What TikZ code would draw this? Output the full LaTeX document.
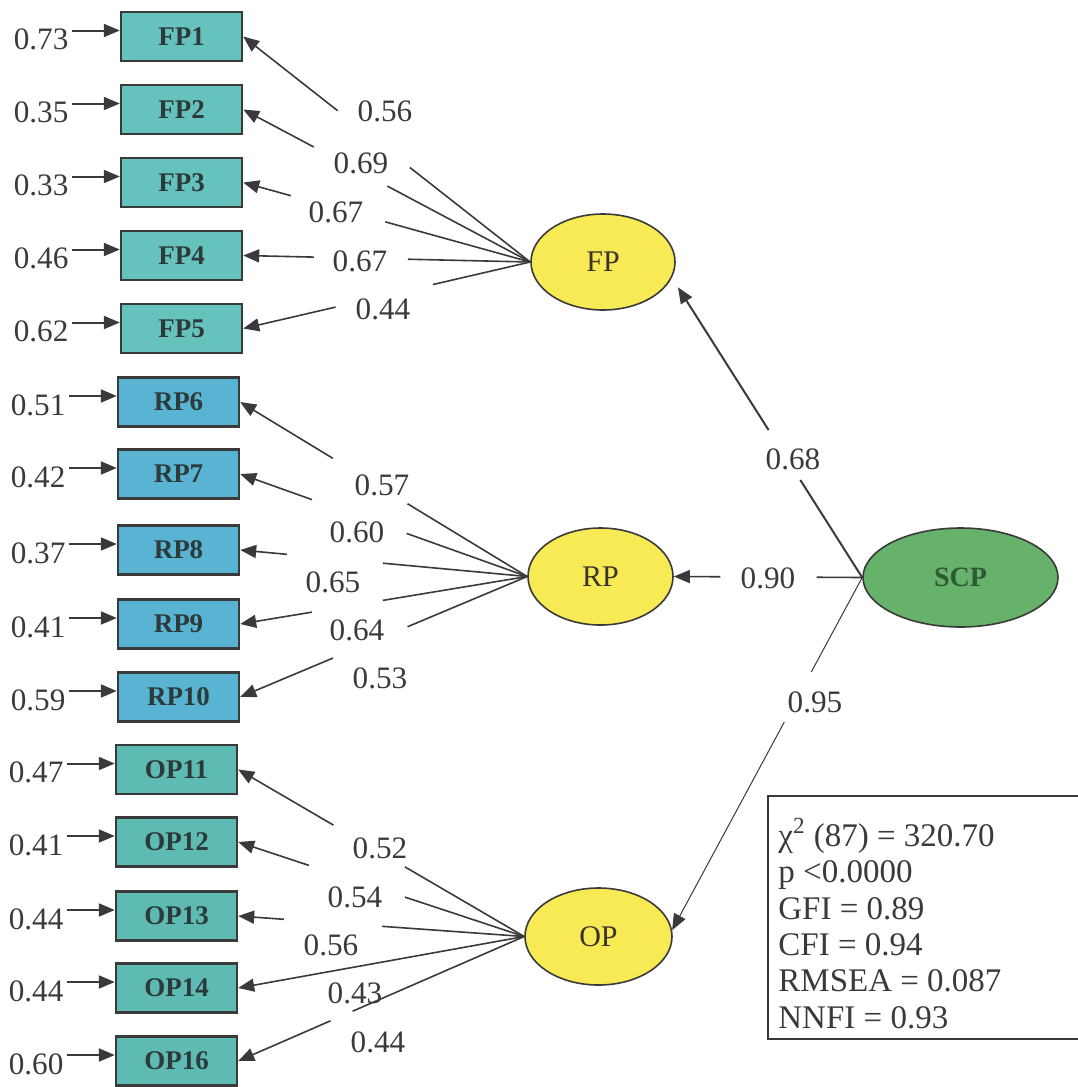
\documentclass[tikz,border=0pt]{standalone}
\usepackage{fontspec}
\setmainfont{Liberation Serif}
\usetikzlibrary{arrows.meta,shapes.geometric}

\definecolor{inkc}{HTML}{3A3A3A}
\definecolor{fpfill}{HTML}{66C2BC}
\definecolor{rpfill}{HTML}{58B4D2}
\definecolor{opfill}{HTML}{5DBBB3}
\definecolor{latfill}{HTML}{F8EA55}
\definecolor{scpfill}{HTML}{66B26A}
\definecolor{boxtext}{HTML}{2C3A3A}
\definecolor{scptext}{HTML}{2E5A33}
\definecolor{lattext}{HTML}{3A3428}

\begin{document}
\begin{tikzpicture}[x=0.5pt,y=-0.5pt,
  obs/.style={draw=inkc, line width=1.2pt, minimum width=60.5pt, minimum height=24.5pt,
    inner sep=0pt, font=\fontsize{13.5}{14}\selectfont\bfseries, text=boxtext},
  lat/.style={ellipse, draw=inkc, line width=0.8pt, fill=latfill, inner sep=0pt,
    font=\fontsize{15}{16}\selectfont, text=lattext},
  num/.style={font=\fontsize{15.6}{16}\selectfont, text=inkc, inner sep=0pt},
  tip/.style={-{Triangle[length=8pt,width=6.5pt]}},
  ln/.style={draw=inkc, line width=0.8pt},
]
\useasboundingbox (0,0) rectangle (1077,1087);

% latent variables
\node[lat, minimum width=72pt, minimum height=48pt] (FP) at (603,262) {FP};
\node[lat, minimum width=72.5pt, minimum height=48.5pt] (RP) at (600.5,576.5) {RP};
\node[lat, minimum width=73.5pt, minimum height=48.5pt] (OP) at (598.5,936.5) {OP};
\node[lat, fill=scpfill, text=scptext, font=\fontsize{14}{15}\selectfont\bfseries,
  minimum width=97.5pt, minimum height=49.5pt] (SCP) at (960.5,577.5) {SCP};

% observed indicators with their error terms
\foreach \n/\x/\y/\v/\c in {
  FP1/181.5/36.5/0.73/fpfill, FP2/181.5/109.5/0.35/fpfill, FP3/181.5/182.5/0.33/fpfill,
  FP4/181.5/255.5/0.46/fpfill, FP5/181.5/328.5/0.62/fpfill,
  RP6/178.5/402/0.51/rpfill, RP7/178.5/474/0.42/rpfill, RP8/178.5/550/0.37/rpfill,
  RP9/178.5/624/0.41/rpfill, RP10/178.5/697/0.59/rpfill,
  OP11/176.5/769.5/0.47/opfill, OP12/176.5/842/0.41/opfill, OP13/176.5/916/0.44/opfill,
  OP14/176.5/988/0.44/opfill, OP16/176.5/1061/0.60/opfill}{
  \node[obs, fill=\c] (\n) at (\x,\y) {\n};
  \node[num, anchor=east] (e\n) at ([xshift=-25.5pt, yshift=-1.5pt]\n.west) {\v};
  \coordinate (s\n) at ([xshift=1.5pt, yshift=4.5pt]e\n.east);
  \draw[ln, line width=1pt, tip] (s\n) -- (s\n -| \n.west);
}

% factor loadings, each line broken around its label
\foreach \f/\n/\a/\b in {
  FP/FP1/0.419/0.671, FP/FP2/0.498/0.754, FP/FP3/0.505/0.834, FP/FP4/0.426/0.754, FP/FP5/0.339/0.678,
  RP/RP6/0.417/0.677, RP/RP7/0.42/0.75, RP/RP8/0.503/0.837, RP/RP9/0.503/0.75, RP/RP10/0.417/0.677,
  OP/OP11/0.417/0.667, OP/OP12/0.417/0.753, OP/OP13/0.497/0.84, OP/OP14/0.5/0.5, OP/OP16/0.60/0.677}{
  \path (\f.west) -- (\n.east) coordinate[pos=\a] (\n-a) coordinate[pos=\b] (\n-b);
  \draw[ln] (\f.west) -- (\n-a);
  \draw[ln, tip] (\n-b) -- (\n.east);
}

\foreach \x/\y/\v [count=\i] in {
  385/111/0.56, 361/163/0.69, 336/212/0.67, 360/261/0.67, 383/309/0.44,
  382/485/0.57, 357/532/0.60, 333/582/0.65, 357/630/0.64, 380/678/0.53,
  380/848/0.52, 355/897/0.54, 331/945/0.56, 355/993/0.43, 378/1042/0.44}{
  \node[num] (load\i) at (\x,\y) {\v};
}

% second-order paths
\coordinate (FPin) at ([xshift=5.5pt, yshift=-1pt]FP.-20);
\path (SCP.west) -- (FPin) coordinate[pos=0.336] (sf-a) coordinate[pos=0.508] (sf-b);
\draw[ln, line width=1pt] (SCP.west) -- (sf-a);
\draw[ln, line width=1pt, tip] (sf-b) -- (FPin);

\path (SCP.west) -- (RP.east) coordinate[pos=0.242] (sr-a) coordinate[pos=0.753] (sr-b);
\draw[ln] (SCP.west) -- (sr-a);
\draw[ln, tip] (sr-b) -- (RP.east);

\path (SCP.west) -- (OP.5) coordinate[pos=0.268] (so-a) coordinate[pos=0.41] (so-b);
\draw[ln, line width=0.5pt] (SCP.west) -- (so-a);
\draw[ln, line width=0.5pt, tip] (so-b) -- (OP.5);

\node[num] (g1) at (793,459) {0.68};
\node[num] (g2) at (768,578) {0.90};
\node[num] (g3) at (815,702) {0.95};

% goodness-of-fit summary
\node[draw=inkc, line width=0.8pt, anchor=north west, minimum width=160pt,
  minimum height=121.5pt, inner sep=0pt] (stats) at (767,795) {};
\node[anchor=north west, align=left, inner sep=0pt, text=inkc,
  font=\fontsize{16.5}{18.2}\selectfont] (fitidx) at (778,818)
  {χ\textsuperscript{2} (87) = 320.70\\ p <0.0000\\ GFI = 0.89\\ CFI = 0.94\\ RMSEA = 0.087\\ NNFI = 0.93};
\end{tikzpicture}
\end{document}
